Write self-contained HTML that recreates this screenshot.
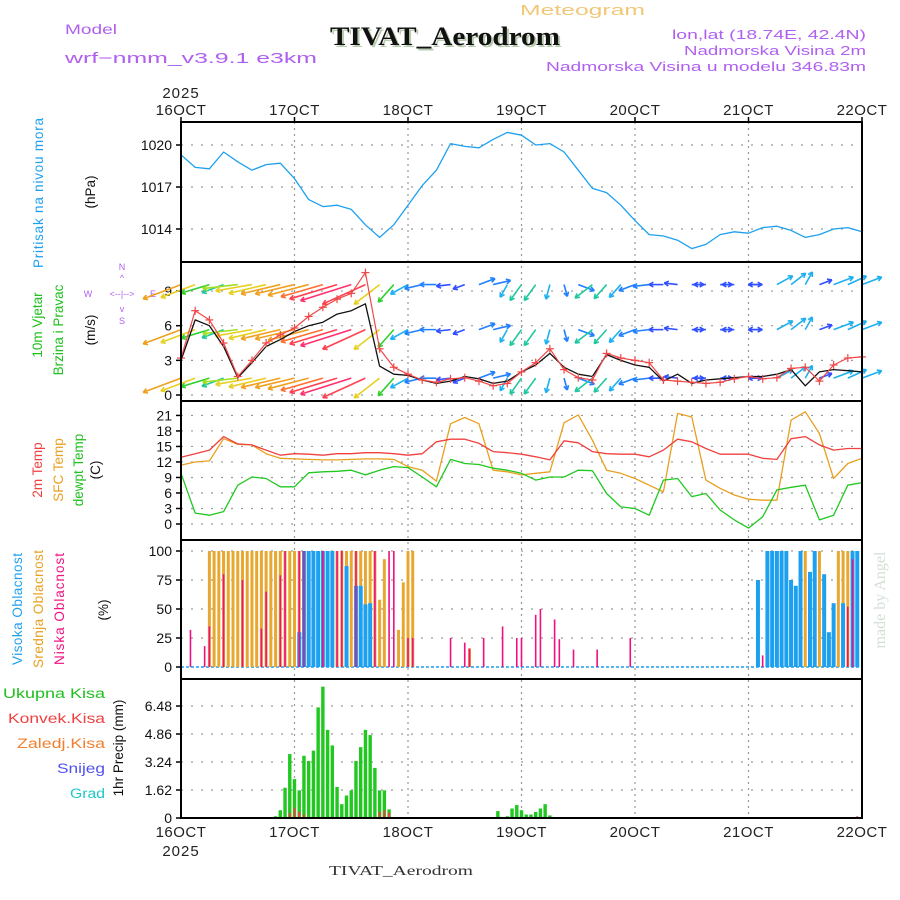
<!DOCTYPE html>
<html><head><meta charset="utf-8"><style>
html,body{margin:0;padding:0;background:#fff;}
svg{display:block;font-family:"Liberation Sans",sans-serif;}
</style></head><body>
<svg id="chart" width="900" height="900" viewBox="0 0 900 900" xmlns="http://www.w3.org/2000/svg">
<rect width="900" height="900" fill="#fff"/>
<text x="520" y="15" textLength="125" lengthAdjust="spacingAndGlyphs" font-size="15" fill="#f0c878">Meteogram</text>
<text x="65" y="34" textLength="52" lengthAdjust="spacingAndGlyphs" font-size="14" fill="#b060f0">Model</text>
<text x="65" y="63" textLength="252" lengthAdjust="spacingAndGlyphs" font-size="15" fill="#b060f0">wrf−nmm_v3.9.1  e3km</text>
<text x="332" y="47" textLength="230" lengthAdjust="spacingAndGlyphs" font-family="Liberation Serif,serif" font-weight="bold" font-size="26" fill="#b8ccb0">TIVAT_Aerodrom</text>
<text x="330" y="45" textLength="230" lengthAdjust="spacingAndGlyphs" font-family="Liberation Serif,serif" font-weight="bold" font-size="26" fill="#111">TIVAT_Aerodrom</text>
<text x="672" y="39" textLength="194" lengthAdjust="spacingAndGlyphs" font-size="12.5" fill="#b060f0">lon,lat (18.74E, 42.4N)</text>
<text x="684" y="55" textLength="182" lengthAdjust="spacingAndGlyphs" font-size="12.5" fill="#b060f0">Nadmorska Visina 2m</text>
<text x="546" y="71" textLength="320" lengthAdjust="spacingAndGlyphs" font-size="12.5" fill="#b060f0">Nadmorska Visina u modelu 346.83m</text>
<text x="181" y="98" text-anchor="middle" font-size="15" letter-spacing="1" fill="#222">2025</text>
<text x="181" y="856" text-anchor="middle" font-size="15" letter-spacing="1" fill="#222">2025</text>
<text x="329" y="875" textLength="144" lengthAdjust="spacingAndGlyphs" font-family="Liberation Serif,serif" font-size="14" fill="#333">TIVAT_Aerodrom</text>
<text transform="translate(885,600) rotate(-90)" text-anchor="middle" font-family="Liberation Serif,serif" font-size="16" fill="#d4e0d4">made by Angel</text>

<g font-size="13.5">
<text transform="translate(43,268) rotate(-90)" textLength="150" lengthAdjust="spacing" fill="#1ea0f0">Pritisak na nivou mora</text>
<text transform="translate(95,192) rotate(-90)" text-anchor="middle" fill="#111">(hPa)</text>
<text transform="translate(42,325) rotate(-90)" text-anchor="middle" fill="#20c020">10m Vjetar</text>
<text transform="translate(63,330) rotate(-90)" text-anchor="middle" fill="#20c020">Brzina i Pravac</text>
<text transform="translate(95,330) rotate(-90)" text-anchor="middle" fill="#111">(m/s)</text>
<text transform="translate(42,470) rotate(-90)" text-anchor="middle" fill="#f04040">2m Temp</text>
<text transform="translate(63,470) rotate(-90)" text-anchor="middle" fill="#e8a020">SFC Temp</text>
<text transform="translate(83,470) rotate(-90)" text-anchor="middle" fill="#20c020">dewpt Temp</text>
<text transform="translate(100,470) rotate(-90)" text-anchor="middle" fill="#111">(C)</text>
<text transform="translate(22,665) rotate(-90)" textLength="112" lengthAdjust="spacing" fill="#1ea0f0">Visoka Oblacnost</text>
<text transform="translate(43,668) rotate(-90)" textLength="118" lengthAdjust="spacing" fill="#e8a020">Srednja Oblacnost</text>
<text transform="translate(64,665) rotate(-90)" textLength="112" lengthAdjust="spacing" fill="#f01080">Niska Oblacnost</text>
<text transform="translate(108,610) rotate(-90)" text-anchor="middle" fill="#111">(%)</text>
<text transform="translate(123,748) rotate(-90)" text-anchor="middle" fill="#111">1hr Precip (mm)</text>
<text x="3" y="698" textLength="102" lengthAdjust="spacingAndGlyphs" fill="#20c020">Ukupna  Kisa</text>
<text x="8" y="723" textLength="97" lengthAdjust="spacingAndGlyphs" fill="#f04040">Konvek.Kisa</text>
<text x="17" y="748" textLength="88" lengthAdjust="spacingAndGlyphs" fill="#f08030">Zaledj.Kisa</text>
<text x="57" y="773" textLength="48" lengthAdjust="spacingAndGlyphs" fill="#5050f0">Snijeg</text>
<text x="70" y="798" textLength="35" lengthAdjust="spacingAndGlyphs" fill="#20c8c8">Grad</text>
</g>
<g font-size="9" fill="#b060f0">
<text x="122" y="270" text-anchor="middle">N</text>
<text x="122" y="281" text-anchor="middle">^</text>
<text x="88" y="297" text-anchor="middle">W</text>
<text x="122" y="297" text-anchor="middle">&lt;--|--&gt;</text>
<text x="153" y="297" text-anchor="middle">E</text>
<text x="122" y="312" text-anchor="middle">v</text>
<text x="122" y="324" text-anchor="middle">S</text>
</g>
<g id="plot"></g>
</svg>
<script>
// ---- time axis ----
const dayLabels = ["16OCT","17OCT","18OCT","19OCT","20OCT","21OCT","22OCT"];
// ---- pressure (hPa), 3-hourly ----
const pressTicks = [1020,1017,1014];
const pressure = [1019.3,1018.4,1018.3,1019.5,1018.8,1018.2,1018.6,1018.7,1017.6,1016.1,1015.6,1015.7,1015.4,1014.3,1013.4,1014.3,1015.7,1017.1,1018.2,1020.1,1019.9,1019.8,1020.4,1020.9,1020.7,1020.0,1020.1,1019.5,1018.2,1016.9,1016.6,1015.7,1014.6,1013.6,1013.5,1013.2,1012.6,1012.9,1013.6,1013.8,1013.7,1014.1,1014.2,1013.9,1013.4,1013.6,1014.0,1014.1,1013.8];
// ---- wind (m/s), 3-hourly ----
const windTicks = [9,6,3,0];
const windSpeed = [3.0,6.5,6.0,4.2,1.5,2.8,4.2,4.8,5.5,6.0,6.3,7.0,7.3,7.9,2.5,1.8,1.7,1.3,1.0,1.2,1.6,1.4,1.0,1.2,2.0,2.6,3.6,2.4,1.8,1.6,3.5,3.0,2.6,2.4,1.2,1.8,1.0,1.3,1.4,1.5,1.6,1.6,1.8,2.2,0.8,2.0,2.2,2.1,2.0];
const windGust = [3.2,7.3,6.5,4.5,1.6,3.0,4.5,5.2,5.8,6.8,7.6,8.3,8.8,10.6,4.0,2.4,1.8,1.3,1.1,1.4,1.5,1.2,0.8,1.0,2.0,2.8,4.0,2.2,1.5,1.3,3.6,3.2,3.0,2.8,1.3,1.2,1.1,1.0,1.1,1.4,1.6,1.4,1.5,2.3,2.4,1.2,2.6,3.2,3.3];
const arrowDir = [60,60,65,60,80,75,70,70,70,68,66,65,64,55,40,30,50,70,90,80,60,240,250,20,25,25,10,350,300,40,30,30,60,80,90,100,270,90,270,90,270,90,230,220,200,240,240,235,240];
const arrowSpd = [9,8,6,4.5,7,7.5,8,8.5,8.5,9,9.5,11,12,11,8,6,4,3,2.5,2,1.8,3,3,3.5,5,5,4,3,3,5,4.5,4,3,2.5,2,1.8,1.5,1.5,1.5,1.5,1.8,2,3.5,4,3.5,2,4,4,4];
const arrowRows = [9.3,5.4,1.2];
// ---- temperature (C), 3-hourly ----
const tempTicks = [21,18,15,12,9,6,3,0];
const temp2m = [12.9,13.6,14.3,16.9,15.5,15.3,14.3,13.3,13.6,13.5,13.3,13.6,13.6,13.8,13.8,13.6,13.3,13.6,15.9,16.4,16.4,15.6,14.0,13.8,13.5,13.0,12.4,16.1,15.7,14.0,13.6,13.5,13.5,13.0,14.3,16.4,15.9,14.6,13.5,13.5,13.5,12.7,12.5,16.5,16.9,15.3,14.3,14.6,14.6];
const tempSfc = [11.4,12.0,12.2,16.5,15.4,15.3,13.6,12.7,12.6,12.5,12.4,12.4,12.5,12.6,12.6,12.5,11.1,10.4,8.3,19.4,20.6,19.4,10.4,10.1,9.5,9.8,10.1,19.6,21.1,16.2,10.4,9.8,8.8,7.5,6.2,21.4,20.7,8.5,6.9,5.6,4.8,4.6,4.6,20.1,21.7,17.5,8.8,11.7,12.7];
const tempDew = [9.8,2.1,1.7,2.4,7.5,9.1,8.8,7.2,7.2,9.9,10.1,10.2,10.4,9.5,10.4,11.1,10.9,9.1,7.2,12.5,11.7,11.5,10.8,10.4,9.8,8.5,9.1,9.1,10.4,10.3,5.9,3.3,3.0,1.7,8.5,8.8,5.3,5.9,2.7,0.8,-0.8,1.4,6.6,7.1,7.5,0.8,1.7,7.5,8.0];
// ---- cloud cover (%), hourly events ----
const cloudTicks = [100,75,50,25,0];
const midHours = [6,7,8,9,10,11,12,13,14,15,16,17,18,19,20,21,22,23,24,25,26,27,28,29,30,31,32,33,34,35,36,37,38,39,40,41,42,43,46,47,48,49,61,124,127,128,129,130,132,133,134,135,136,138,139,140,141,142,143];
const midCover = [100,100,100,100,100,100,100,100,100,100,100,100,100,100,100,100,100,100,100,100,100,100,100,100,100,100,100,100,100,100,100,100,100,100,100,100,58,93,32,73,100,100,16,25,25,25,55,55,100,70,100,100,20,47,100,100,100,100,100];
const highHours = [25,26,27,28,29,30,31,32,35,37,38,39,40,122,124,125,126,127,128,129,130,131,133,134,136,137,138,140,142,143];
const highCover = [30,100,100,100,100,100,100,100,87,70,70,54,55,75,100,100,100,100,100,75,70,100,82,100,80,30,55,55,100,100];
const lowHours = [2,5,6,9,13,17,18,21,22,25,26,30,33,34,37,41,44,45,48,49,57,60,61,64,68,71,72,75,76,79,80,83,88,95,123,141,142];
const lowCover = [32,18,35,80,75,33,65,79,100,100,100,100,100,100,100,100,100,100,25,25,25,21,16,25,35,25,25,45,50,41,24,15,15,25,10,52,93];
// ---- precipitation (mm/h), hourly events ----
const precipTicks = [6.48,4.86,3.24,1.62,0];
const precipHours = [10,11,19,20,21,22,23,24,25,26,27,28,29,30,31,32,33,34,35,36,37,38,39,40,41,42,43,44,67,69,70,71,72,73,74,75,76,77,78,142];
const precipTotal = [0.05,0.05,0.05,0.1,0.45,1.75,3.7,2.25,1.6,3.6,3.3,3.9,6.4,7.6,5.1,4.2,1.8,0.8,1.3,1.6,3.3,4.1,5.1,4.8,2.9,1.6,1.6,0.5,0.4,0.1,0.55,0.75,0.45,0.2,0.2,0.35,0.55,0.8,0.15,0.05];
const convHours = [23,24,25,26,42,43,44,46,143];
const convPrecip = [0.3,0.6,0.35,0.2,0.35,0.45,0.3,0.05,0.1];

// ---- scales ----
const X0=181, X1=862;
const x = h => X0 + h*(X1-X0)/144;
const yP = p => 145 + (1020-p)*14;
const yW = v => 395 - v*11.55;
const yT = t => 524 - t*5.17;
const yC = c => 667 - c*1.16;
const yR = v => 818 - v*17.28;
const panels = [[122,262],[262,401],[401,540],[540,679],[679,818]];
const NS="http://www.w3.org/2000/svg";
const plot=document.getElementById('plot');
function el(tag,attrs,parent){const e=document.createElementNS(NS,tag);for(const k in attrs)e.setAttribute(k,attrs[k]);(parent||plot).appendChild(e);return e;}

// grids
const grid=el('g',{});


for(let d=1;d<6;d++){const l=el('line',{x1:x(d*24),x2:x(d*24),y1:122,y2:818,stroke:'#999','stroke-dasharray':'2,4','stroke-width':1.2},grid);

}
function hgrid(ticks,yf,name){ticks.forEach(t=>{const yy=yf(t);
const l=el('line',{x1:X0,x2:X1,y1:yy,y2:yy,stroke:'#999','stroke-dasharray':'2,8','stroke-width':1.2},grid);


el('line',{x1:X0-5,x2:X0,y1:yy,y2:yy,stroke:'#000','stroke-width':1.5},grid);
const tx=el('text',{x:X0-9,y:yy+5,'text-anchor':'end','font-size':14,fill:'#111'},grid);
tx.textContent=String(t);

});}
hgrid(pressTicks,yP,'pressure');
hgrid(windTicks,yW,'wind');
hgrid(tempTicks,yT,'temp');
hgrid(cloudTicks,yC,'cloud');
hgrid(precipTicks,yR,'precip');
// day labels
dayLabels.forEach((d,i)=>{[[115],[837]].forEach(([yy],j)=>{
const t=el('text',{x:x(i*24),y:yy,'text-anchor':'middle','font-size':15,'letter-spacing':'0.5',fill:'#222'});
t.textContent=d;

});
el('line',{x1:x(i*24),x2:x(i*24),y1:117,y2:122,stroke:'#000','stroke-width':1.5});});

const H = i=>i*3;
function line(arr,yf,color,name,w){const pts=arr.map((v,i)=>x(H(i)).toFixed(1)+','+yf(v).toFixed(1)).join(' ');
const p=el('polyline',{points:pts,fill:'none',stroke:color,'stroke-width':w||1.3,'stroke-linejoin':'round'});

return p;}
line(pressure,yP,'#1ea0f0','pressure-line');

// wind arrows
function spdColor(s){const c=['#8a2be2','#8a2be2','#3050ff','#2080ff','#1eb0f0','#20c8a0','#30d030','#a0e020','#e8d020','#f0a020','#ff7030','#ff4050','#ff3070'];return c[Math.min(12,Math.max(0,Math.round(s)))];}
const arrows=el('g',{});


arrowRows.forEach(rv=>{arrowDir.forEach((dir,i)=>{const s=arrowSpd[i];const L=6+s*4.2;const a=(dir+180)*Math.PI/180;
const x1=x(H(i)),y1=yW(rv)-3;const x2=x1+L*Math.sin(a),y2=y1-L*Math.cos(a)*0.65;
const col=spdColor(s);
const g=el('g',{stroke:col,'stroke-width':1.6,fill:'none'},arrows);


el('line',{x1:x1,y1:y1,x2:x2,y2:y2},g);
const ang=Math.atan2(y2-y1,x2-x1);
[0.5,-0.5].forEach(d=>el('line',{x1:x2,y1:y2,x2:x2-5*Math.cos(ang+d),y2:y2-5*Math.sin(ang+d)},g));});});

line(windSpeed,yW,'#111','wind-speed-line',1.3);
line(windGust,yW,'#f04848','wind-gust-line',1.2);
windGust.forEach((v,i)=>{const cx=x(H(i)),cy=yW(v);
const g=el('g',{stroke:'#f04848','stroke-width':1.2});


el('line',{x1:cx-4,x2:cx+4,y1:cy,y2:cy},g);el('line',{x1:cx,x2:cx,y1:cy-4,y2:cy+4},g);});

line(tempSfc,yT,'#e8a020','sfc-temp-line');
line(temp2m,yT,'#f04040','temp-2m-line');
line(tempDew,yT,'#20c820','dewpoint-line');

// cloud bars
function bars(hours,vals,yf,color,w,name,base){hours.forEach((h,i)=>{const yy=yf(vals[i]);
const r=el('rect',{x:x(h)-w/2,y:yy,width:w,height:base-yy,fill:color});

});}
el('line',{x1:X0,x2:X1,y1:667,y2:667,stroke:'#1ea0f0','stroke-width':1.5,'stroke-dasharray':'3,2'});
bars(midHours,midCover,yC,'#e8a830',3,'mid-cloud-bar',667);
bars(highHours,highCover,yC,'#1ea0f0',4,'high-cloud-bar',667);
bars(lowHours,lowCover,yC,'#f01080',1.6,'low-cloud-bar',667);
bars(precipHours,precipTotal,yR,'#20c820',3.4,'total-precip-bar',818);
bars(convHours,convPrecip,yR,'#f04040',2,'convective-precip-bar',818);

// panel frames
panels.forEach(([a,b],i)=>{const r=el('rect',{x:X0,y:a,width:X1-X0,height:b-a,fill:'none',stroke:'#000','stroke-width':2});

});
</script>
</body></html>
